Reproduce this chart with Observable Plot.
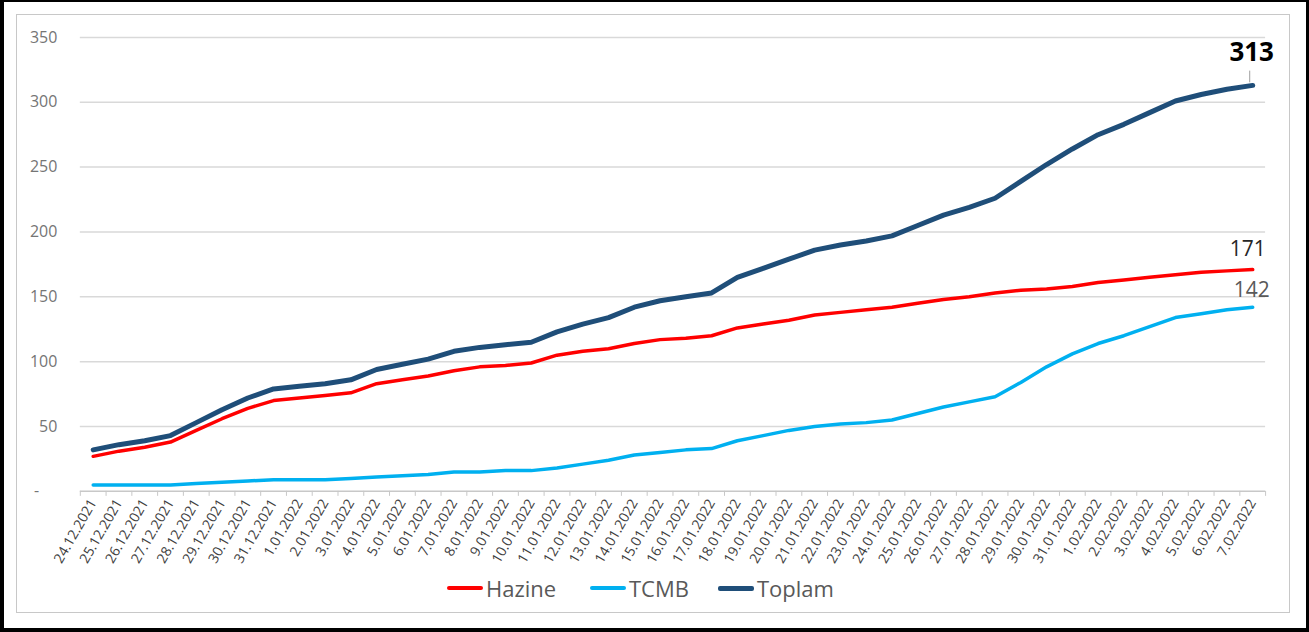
<!DOCTYPE html>
<html>
<head>
<meta charset="utf-8">
<script src="https://cdn.jsdelivr.net/npm/d3@7"></script>
<script src="https://cdn.jsdelivr.net/npm/@observablehq/plot@0.6"></script>
<style>
  html, body { margin: 0; padding: 0; background: #fff; }
  #frame { position: relative; width: 1309px; height: 632px; box-sizing: border-box;
           border-left: 4px solid #000; border-top: 2px solid #000; border-bottom: 4px solid #000; border-right: 3px solid #000; overflow: hidden; }
  #inner { position: absolute; left: 12px; top: 12px; width: 1274px; height: 599px; box-sizing: border-box; border: 1px solid #c8c8c8; }
  #chart { position: absolute; left: -4px; top: -2px; }
  #legend { position: absolute; left: 443px; top: 571px; display: flex; align-items: center;
            font-family: "Open Sans", sans-serif; font-size: 22px; color: #595959; }
  .item { display: flex; align-items: center; }
  .sw { width: 36px; height: 4px; border-radius: 2px; margin-right: 3px; }
</style>
</head>
<body>
<div id="frame">
  <div id="inner"></div>
  <div id="chart"></div>
  <div id="legend"></div>
</div>
<script>
const dates = ["24.12.2021","25.12.2021","26.12.2021","27.12.2021","28.12.2021","29.12.2021","30.12.2021","31.12.2021",
  "1.01.2022","2.01.2022","3.01.2022","4.01.2022","5.01.2022","6.01.2022","7.01.2022","8.01.2022","9.01.2022","10.01.2022",
  "11.01.2022","12.01.2022","13.01.2022","14.01.2022","15.01.2022","16.01.2022","17.01.2022","18.01.2022","19.01.2022",
  "20.01.2022","21.01.2022","22.01.2022","23.01.2022","24.01.2022","25.01.2022","26.01.2022","27.01.2022","28.01.2022",
  "29.01.2022","30.01.2022","31.01.2022","1.02.2022","2.02.2022","3.02.2022","4.02.2022","5.02.2022","6.02.2022","7.02.2022"];
const hazine = [27,31,34,38,47,56,64,70,72,74,76,83,86,89,93,96,97,99,105,108,110,114,117,118,120,126,129,132,136,138,140,142,145,148,150,153,155,156,158,161,163,165,167,169,170,171];
const tcmb   = [5,5,5,5,6,7,8,9,9,9,10,11,12,13,15,15,16,16,18,21,24,28,30,32,33,39,43,47,50,52,53,55,60,65,69,73,84,96,106,114,120,127,134,137,140,142];
const toplam = [32,36,39,43,53,63,72,79,81,83,86,94,98,102,108,111,113,115,123,129,134,142,147,150,153,165,172,179,186,190,193,197,205,213,219,226,239,252,264,275,283,292,301,306,310,313];
const yTicks = [0,50,100,150,200,250,300,350];
const seriesNames = ["Hazine","TCMB","Toplam"];
const seriesColors = ["#ff0000","#00b0f0","#1f4e79"];

const idx = d3.range(dates.length);
const last = dates.length - 1;
const rows = (vals) => idx.map(i => ({i, v: vals[i]}));

const font = "'Open Sans', sans-serif";
const plot = Plot.plot({
  width: 1309, height: 572,
  marginLeft: 80, marginRight: 41, marginTop: 37, marginBottom: 80,
  x: {type: "linear", domain: [-0.5, last + 0.5], axis: null},
  y: {domain: [0, 350], axis: null},
  style: {fontFamily: font, background: "transparent", overflow: "visible"},
  marks: [
    Plot.gridY(yTicks.filter(d => d > 0), {stroke: "#d9d9d9", strokeOpacity: 1, strokeWidth: 1.5}),
    Plot.ruleY([0], {stroke: "#c8c8c8", strokeWidth: 1.5}),
    Plot.axisY(yTicks, {label: null, tickSize: 0, tickPadding: 23, fontSize: 16, fill: "#757575",
      tickFormat: d => d === 0 ? "-\u2007\u2007" : String(d)}),
    Plot.axisX(d3.range(-0.5, last + 1, 1), {label: null, tickSize: 5, stroke: "#c8c8c8", tickFormat: () => ""}),
    Plot.axisX(idx, {label: null, tickSize: 0, tickPadding: 9, tickRotate: -60, fontSize: 14, fill: "#404040",
      tickFormat: i => dates[i]}),
    Plot.line(rows(tcmb), {x: "i", y: "v", stroke: seriesColors[1], strokeWidth: 3.5, strokeLinejoin: "round", strokeLinecap: "round"}),
    Plot.line(rows(hazine), {x: "i", y: "v", stroke: seriesColors[0], strokeWidth: 3.5, strokeLinejoin: "round", strokeLinecap: "round"}),
    Plot.line(rows(toplam), {x: "i", y: "v", stroke: seriesColors[2], strokeWidth: 5, strokeLinejoin: "round", strokeLinecap: "round"}),
    Plot.ruleX([last], {x: d => d, y1: d => toplam[d] + 2, y2: d => toplam[d] + 11, stroke: "#a0a0a0", strokeWidth: 1, dx: -3}),
    Plot.text([last], {x: d => d, y: d => toplam[d], text: d => String(toplam[d]), dx: -1, dy: -33,
      fontSize: 26, fontWeight: "bold", fill: "#000"}),
    Plot.text([last], {x: d => d, y: d => hazine[d], text: d => String(hazine[d]), dx: -5, dy: -20,
      fontSize: 21, fill: "#262626"}),
    Plot.text([last], {x: d => d, y: d => tcmb[d], text: d => String(tcmb[d]), dx: -1, dy: -17,
      fontSize: 21, fill: "#595959"})
  ]
});
document.getElementById("chart").appendChild(plot);

const legend = document.getElementById("legend");
const itemWidths = [143, 128, 130];
seriesNames.forEach((name, k) => {
  const item = document.createElement("div");
  item.className = "item";
  item.style.width = itemWidths[k] + "px";
  const sw = document.createElement("div");
  sw.className = "sw";
  sw.style.background = seriesColors[k];
  if (k === 2) { sw.style.height = "5px"; }
  const t = document.createElement("span");
  t.textContent = name;
  item.appendChild(sw);
  item.appendChild(t);
  legend.appendChild(item);
});
</script>
</body>
</html>
